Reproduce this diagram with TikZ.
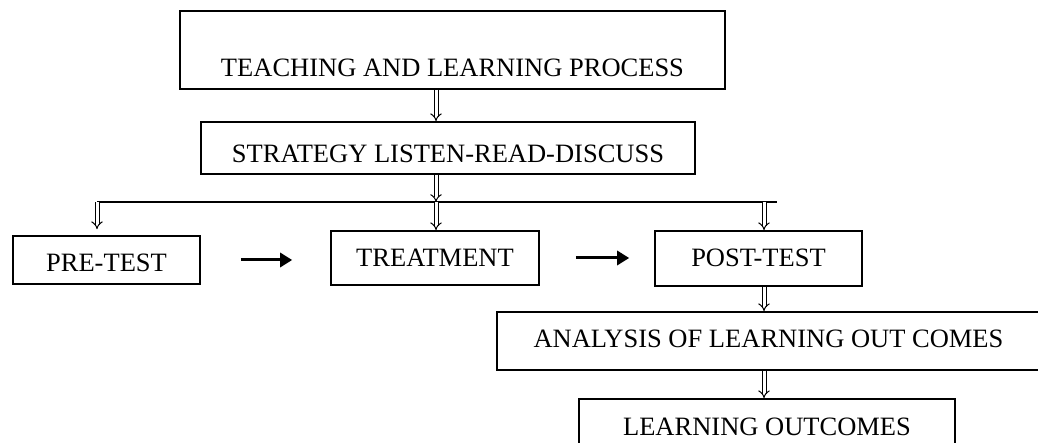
\documentclass[tikz,border=0pt]{standalone}
\usepackage{fontspec}
\setmainfont{Liberation Serif}
\usetikzlibrary{arrows.meta}

\begin{document}
\begin{tikzpicture}[x=1pt,y=-1pt,
box/.style={draw=black,
  line width=1.6pt,
  inner sep=0pt,
  anchor=base,align=center,
  node font=\fontsize{26.5}{30}\selectfont
},
dbl/.style={double,double distance=3pt,line width=1pt,-{Implies[scale=1.35]}},
flow/.style={line width=3pt,-{Triangle[length=12pt,width=14pt]}}]
\useasboundingbox (0,0) rectangle (1038,443);

\node (teach) [box, minimum width=545pt, text height=66pt, text depth=12pt] at (452.5,77) {TEACHING AND LEARNING PROCESS};

\node (strat) [box, minimum width=494pt, text height=41pt, text depth=11pt] at (448,163) {STRATEGY LISTEN-READ-DISCUSS};

\node (pre) [box, minimum width=187pt, text height=36pt, text depth=12pt] at (106.5,272) {PRE-TEST};

\node (treat) [box, minimum width=208pt, text height=36pt, text depth=18pt] at (435,267) {TREATMENT};

\node (post) [box, minimum width=207pt, text height=36pt, text depth=19pt] at (758.5,267) {POST-TEST};

\node (anal) [box, minimum width=543pt, text height=35pt, text depth=23pt] at (768.5,347) {ANALYSIS OF LEARNING OUT COMES};

\node (outc) [box, minimum width=376pt, text height=36pt, text depth=18pt] at (767,435) {LEARNING OUTCOMES};

\coordinate (splitL) at (97,202);
\coordinate (splitR) at (777,202);
\coordinate (colM) at (436,202);
\coordinate (colR) at (764,202);

\draw [line width=1.2pt] (splitL) -- (splitR);
\draw [dbl] (teach.south -| colM) -- (strat.north -| colM);
\draw [dbl] (strat.south -| colM) -- (colM);
\draw [dbl] (splitL) -- ([yshift=6pt]pre.north -| splitL);
\draw [dbl] (colM) -- (treat.north -| colM);
\draw [dbl] (colR) -- (post.north -| colR);
\draw [dbl] (post.south -| colR) -- (anal.north -| colR);
\draw [dbl] (anal.south -| colR) -- (outc.north -| colR);

\draw [flow] ([xshift=40pt]pre.east) -- ([xshift=-38pt]treat.west |- pre.east);
\draw [flow] ([xshift=36pt]treat.east) -- ([xshift=-25pt]post.west |- treat.east);
\end{tikzpicture}
\end{document}
